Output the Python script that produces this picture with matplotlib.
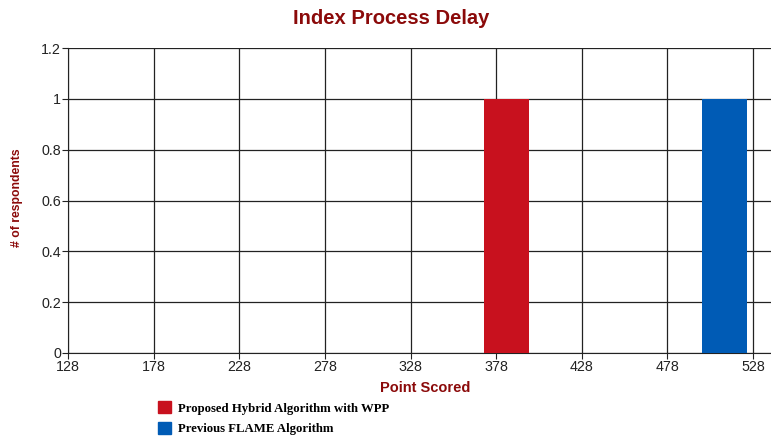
import matplotlib
matplotlib.use("Agg")
import matplotlib.pyplot as plt
from matplotlib.patches import Patch

series_names = ["Proposed Hybrid Algorithm with WPP", "Previous FLAME Algorithm"]
bar_centers = [384, 511.5]
bar_values = [1, 1]
bar_width = 26
colors = ["#C8111E", "#005BB5"]
x_ticks = [128, 178, 228, 278, 328, 378, 428, 478, 528]
y_ticks = [0, 0.2, 0.4, 0.6, 0.8, 1, 1.2]
y_tick_labels = ["0", "0.2", "0.4", "0.6", "0.8", "1", "1.2"]

title_color = "#8B0A0A"

fig = plt.figure(figsize=(7.71, 4.37), dpi=100)
ax = fig.add_axes([68/771, 1-353/437, 1-68/771, (353-48)/437])

for c, v, col in zip(bar_centers, bar_values, colors):
    ax.bar(c, v, width=bar_width, color=col, zorder=3)

ax.set_xlim(128, 538.5)
ax.set_ylim(0, 1.2)
ax.set_xticks(x_ticks)
ax.set_xticklabels([str(t) for t in x_ticks], fontfamily="Liberation Sans", fontsize=10.3, color="#222222")
ax.set_yticks(y_ticks)
ax.set_yticklabels(y_tick_labels, fontfamily="Liberation Sans", fontsize=10.3, color="#222222")
ax.grid(True, color="#222222", linewidth=0.9, zorder=1)
for s in ["top", "right"]:
    ax.spines[s].set_visible(False)
ax.spines["left"].set_color("#222222")
ax.spines["bottom"].set_color("#222222")
ax.tick_params(axis="x", length=4, color="#222222", pad=1)
ax.tick_params(axis="y", length=4, color="#222222", pad=1)

fig.text(391/771, 1-18/437, "Index Process Delay", ha="center", va="center",
         fontfamily="Liberation Sans", fontweight="bold", fontsize=14.5, color=title_color)
fig.text(425/771, 1-388/437, "Point Scored", ha="center", va="center",
         fontfamily="Liberation Sans", fontweight="bold", fontsize=10.5, color=title_color)
fig.text(17/771, 1-198/437, "# of respondents", ha="center", va="center", rotation=90,
         fontfamily="Liberation Sans", fontweight="bold", fontsize=8.8, color=title_color)

handles = [Patch(facecolor=c, edgecolor=c) for c in colors]
leg = fig.legend(handles, series_names, loc="upper left", bbox_to_anchor=(152/771, 1-395/437),
                 frameon=False, handlelength=0.95, handleheight=1.05, handletextpad=0.6,
                 labelspacing=0.55, borderpad=0,
                 prop={"family": "Liberation Serif", "weight": "bold", "size": 9.2})

fig.savefig("out.png", dpi=100)
